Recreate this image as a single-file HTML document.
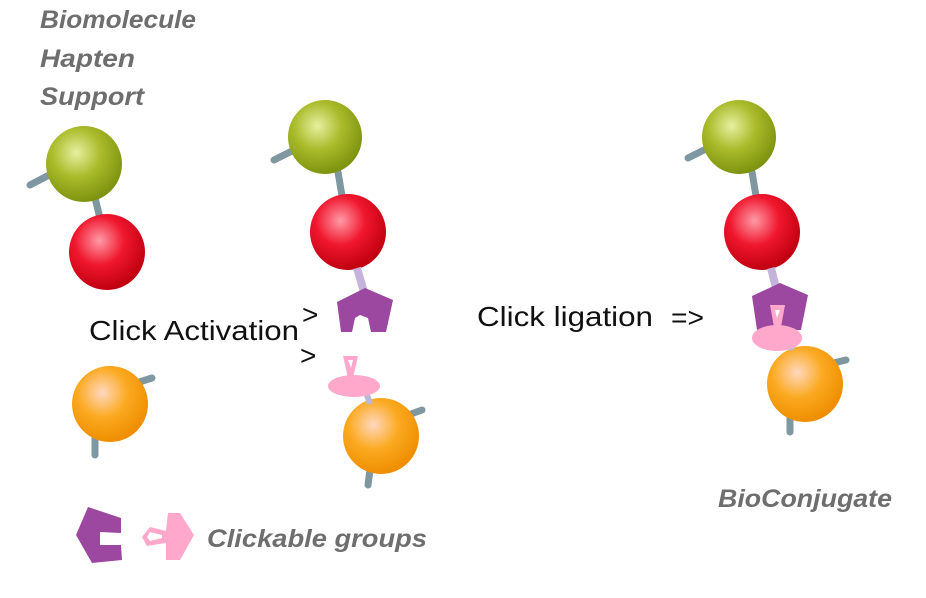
<!DOCTYPE html>
<html><head><meta charset="utf-8"><style>
body{margin:0;background:#fff;width:926px;height:598px;overflow:hidden}
svg{display:block}
.t{font-family:"Liberation Sans",sans-serif;font-size:28px;fill:#111}
.g{font-family:"Liberation Sans",sans-serif;font-size:25px;font-weight:bold;font-style:italic;fill:#6e6e6e}
</style></head><body>
<svg width="926" height="598" viewBox="0 0 926 598">
<defs>
<radialGradient id="gr" cx="0.4" cy="0.35" r="0.65"><stop offset="0" stop-color="#e6f0a0"/><stop offset="0.5" stop-color="#aabb2a"/><stop offset="1" stop-color="#7e9410"/></radialGradient>
<radialGradient id="rd" cx="0.4" cy="0.35" r="0.65"><stop offset="0" stop-color="#ff9aa6"/><stop offset="0.5" stop-color="#f0172e"/><stop offset="1" stop-color="#c00010"/></radialGradient>
<radialGradient id="or" cx="0.4" cy="0.35" r="0.65"><stop offset="0" stop-color="#ffd8c0"/><stop offset="0.5" stop-color="#fbaa22"/><stop offset="1" stop-color="#ef8e00"/></radialGradient>
</defs>
<g stroke="#7f97a0" stroke-width="7" stroke-linecap="round">
<line x1="30" y1="185" x2="55" y2="172"/><line x1="95" y1="198" x2="100" y2="218"/>
<line x1="130" y1="385" x2="152" y2="378"/><line x1="95" y1="438" x2="95" y2="455"/>
<line x1="274" y1="160" x2="298" y2="148"/><line x1="338" y1="172" x2="342" y2="196"/>
<line x1="400" y1="418" x2="422" y2="410"/><line x1="370" y1="470" x2="368" y2="485"/>
<line x1="688" y1="158" x2="712" y2="146"/><line x1="752" y1="172" x2="756" y2="196"/>
<line x1="825" y1="365" x2="846" y2="360"/><line x1="790" y1="418" x2="790" y2="432"/>
</g>
<circle cx="84" cy="164" r="38" fill="url(#gr)"/>
<circle cx="107" cy="252" r="38" fill="url(#rd)"/>
<circle cx="110" cy="404" r="38" fill="url(#or)"/>
<circle cx="325" cy="137" r="37" fill="url(#gr)"/>
<circle cx="348" cy="232" r="38" fill="url(#rd)"/>
<circle cx="381" cy="436" r="38" fill="url(#or)"/>
<circle cx="739" cy="137" r="37" fill="url(#gr)"/>
<circle cx="762" cy="232" r="38" fill="url(#rd)"/>
<circle cx="805" cy="384" r="38" fill="url(#or)"/>
<g stroke="#c4b4dc" stroke-width="8"><line x1="357" y1="268" x2="364" y2="292"/><line x1="771" y1="268" x2="776" y2="288"/></g>
<g stroke="#b8b8d8" stroke-width="6"><line x1="366" y1="392" x2="370" y2="404"/><line x1="790" y1="344" x2="792" y2="350"/></g>
<polygon fill="#9c47a0" points="365,288 393,300 386,332 371,332 368,318 360,315 355,318 352,332 341,332 337,302"/>
<g fill="#ffa8cc">
<polygon points="343,356 358,356 353,378 348,378"/>
<ellipse cx="354" cy="386" rx="26" ry="11"/>
</g>
<polygon fill="#fff" points="348,360 353,360 351,368"/>
<polygon fill="#9c47a0" points="780,283 808,295 801,330 757,330 752,296"/>
<polygon fill="#ffa8cc" points="770,305 785,305 781,327 774,327"/>
<polygon fill="#fff" points="775,310 780,310 777,318"/>
<ellipse cx="777" cy="338" rx="25" ry="13" fill="#ffa8cc"/>
<polygon fill="#9c47a0" points="88,507 121,518 121,533 100,532 100,545 121,545 122,560 92,563 76,535"/>
<polygon fill="#ffa8cc" points="168,513 180,513 194,535 180,560 166,560 166,543 147,546 142,537 150,527 166,531"/>
<polygon fill="#fff" points="150,532 162,535 162,538 150,541 147,537"/>
<text class="g" x="40" y="28" textLength="156" lengthAdjust="spacingAndGlyphs">Biomolecule</text>
<text class="g" x="40" y="67" textLength="95" lengthAdjust="spacingAndGlyphs">Hapten</text>
<text class="g" x="40" y="105" textLength="104" lengthAdjust="spacingAndGlyphs">Support</text>
<text class="t" x="89" y="340" textLength="210" lengthAdjust="spacingAndGlyphs">Click Activation</text>
<text class="t" x="302" y="324" font-size="22">&gt;</text>
<text class="t" x="300" y="365" font-size="22">&gt;</text>
<text class="t" x="477" y="326" textLength="176" lengthAdjust="spacingAndGlyphs">Click ligation</text>
<text class="t" x="671" y="327" font-size="24" textLength="33" lengthAdjust="spacingAndGlyphs">=&gt;</text>
<text class="g" x="718" y="507" textLength="174" lengthAdjust="spacingAndGlyphs">BioConjugate</text>
<text class="g" x="207" y="547" textLength="220" lengthAdjust="spacingAndGlyphs">Clickable groups</text>
</svg>
</body></html>
